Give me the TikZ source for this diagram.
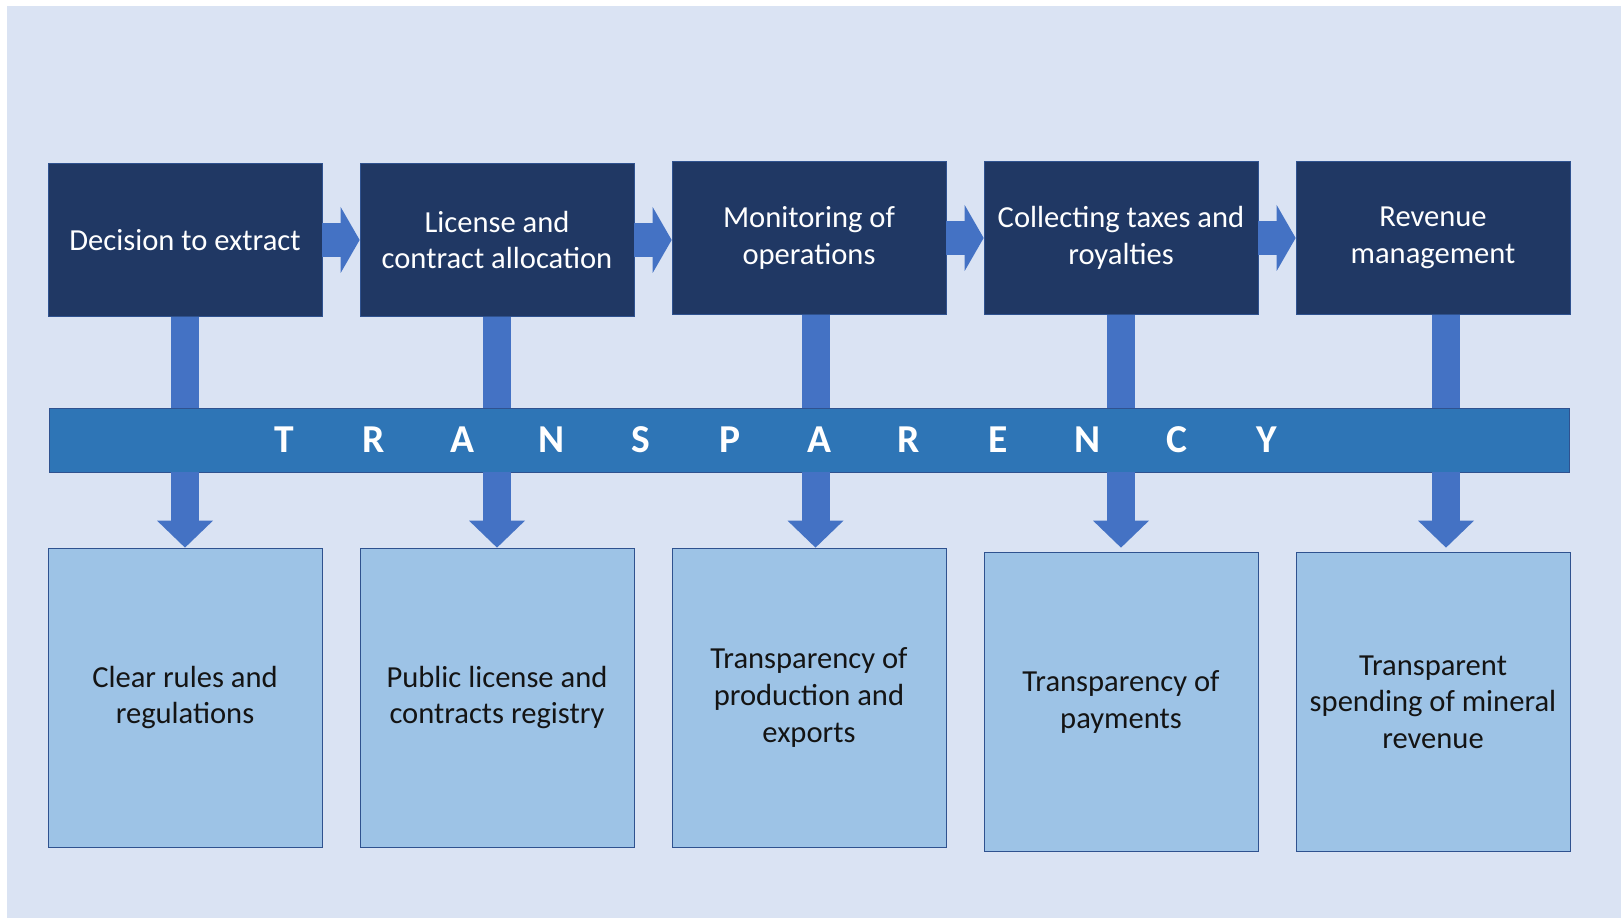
\documentclass[tikz,border=0pt]{standalone}
\usepackage{fontspec}
\setmainfont{Carlito}
\usepackage{tikz}
\usetikzlibrary{arrows.meta,positioning}
\usepackage{xcolor}
\definecolor{pagebg}{HTML}{DAE3F3}
\definecolor{stagenavy}{HTML}{203864}
\definecolor{bandblue}{HTML}{2E75B6}
\definecolor{arrowblue}{HTML}{4472C4}
\definecolor{outcomeblue}{HTML}{9DC3E6}
\definecolor{edgeblue}{HTML}{2F528F}
\tikzset{
  stagebox/.style={draw=edgeblue, fill=stagenavy, text=white, align=center,
    minimum width=5.48cm, minimum height=3.06cm, inner sep=0pt,
    font=\fontsize{17.4}{21}\selectfont},
  outcomebox/.style={draw=edgeblue, fill=outcomeblue, text=black!92, align=center,
    minimum width=5.48cm, minimum height=5.98cm, inner sep=0pt,
    font=\fontsize{17.4}{20.8}\selectfont},
  bandbox/.style={draw=edgeblue, fill=bandblue, minimum width=30.40cm,
    minimum height=1.28cm, inner sep=0pt},
  bandletter/.style={text=white, inner sep=0pt, font=\fontsize{22.5}{26}\selectfont\bfseries},
  flowarrow/.style={draw=arrowblue, line width=0.68cm,
    -{Triangle[length=0.38cm, width=1.32cm, line width=0pt, fill=arrowblue]}},
  stemline/.style={draw=arrowblue, line width=0.56cm},
  stemarrow/.style={draw=arrowblue, line width=0.56cm,
    -{Triangle[length=0.54cm, width=1.12cm, line width=0pt, fill=arrowblue]}},
}

\begin{document}
\begin{tikzpicture}
  \useasboundingbox (0,0) rectangle (32.42,18.36);
  \fill[pagebg] (0.14,0) rectangle (32.42,18.24);

  % value chain stages
  \node[stagebox] (stage1) at (3.70,13.56) {Decision to extract};
  \node[stagebox] (stage2) at (9.94,13.56) {License and\\contract allocation};
  \node[stagebox] (stage3) at (16.18,13.60) {Monitoring of\\operations};
  \node[stagebox] (stage4) at (22.42,13.60) {Collecting taxes and\\royalties};
  \node[stagebox] (stage5) at (28.66,13.60) {Revenue\\management};

  \draw[flowarrow] (stage1.east) -- (stage2.west);
  \draw[flowarrow] (stage2.east) -- (stage2.east -| stage3.west);
  \draw[flowarrow] (stage3.east) -- (stage4.west);
  \draw[flowarrow] (stage4.east) -- (stage5.west);

  % transparency band
  \node[bandbox] (band) at (16.18,9.56) {};
  \foreach \ch [count=\k from 0] in {T,R,A,N,S,P,A,R,E,N,C,Y}
    \node[bandletter] (letter\k) at ({5.68+1.786*\k},9.56) {\ch};

  % outcomes
  \node[outcomebox] (outcome1) at (3.70,4.41) {Clear rules and\\regulations};
  \node[outcomebox] (outcome2) at (9.94,4.41) {Public license and\\contracts registry};
  \node[outcomebox] (outcome3) at (16.18,4.41) {Transparency of\\production and\\exports};
  \node[outcomebox] (outcome4) at (22.42,4.32) {Transparency of\\payments};
  \node[outcomebox] (outcome5) at (28.66,4.32) {Transparent\\spending of mineral\\revenue};

  % stems through the band
  \draw[stemline] (stage1.south) -- (stage1.south |- band.north);
  \draw[stemline] (stage2.south) -- (stage2.south |- band.north);
  \draw[stemline] ([xshift=0.13cm]stage3.south) -- ([xshift=0.13cm]stage3.south |- band.north);
  \draw[stemline] (stage4.south) -- (stage4.south |- band.north);
  \draw[stemline] ([xshift=0.26cm]stage5.south) -- ([xshift=0.26cm]stage5.south |- band.north);

  \draw[stemarrow] (outcome1.north |- band.south) -- (outcome1.north);
  \draw[stemarrow] (outcome2.north |- band.south) -- (outcome2.north);
  \draw[stemarrow] ([xshift=0.13cm]outcome3.north |- band.south) -- ([xshift=0.13cm]outcome3.north);
  \draw[stemarrow] (outcome4.north |- band.south) -- ([yshift=0.09cm]outcome4.north);
  \draw[stemarrow] ([xshift=0.26cm]outcome5.north |- band.south) -- ([xshift=0.26cm,yshift=0.09cm]outcome5.north);
\end{tikzpicture}
\end{document}
